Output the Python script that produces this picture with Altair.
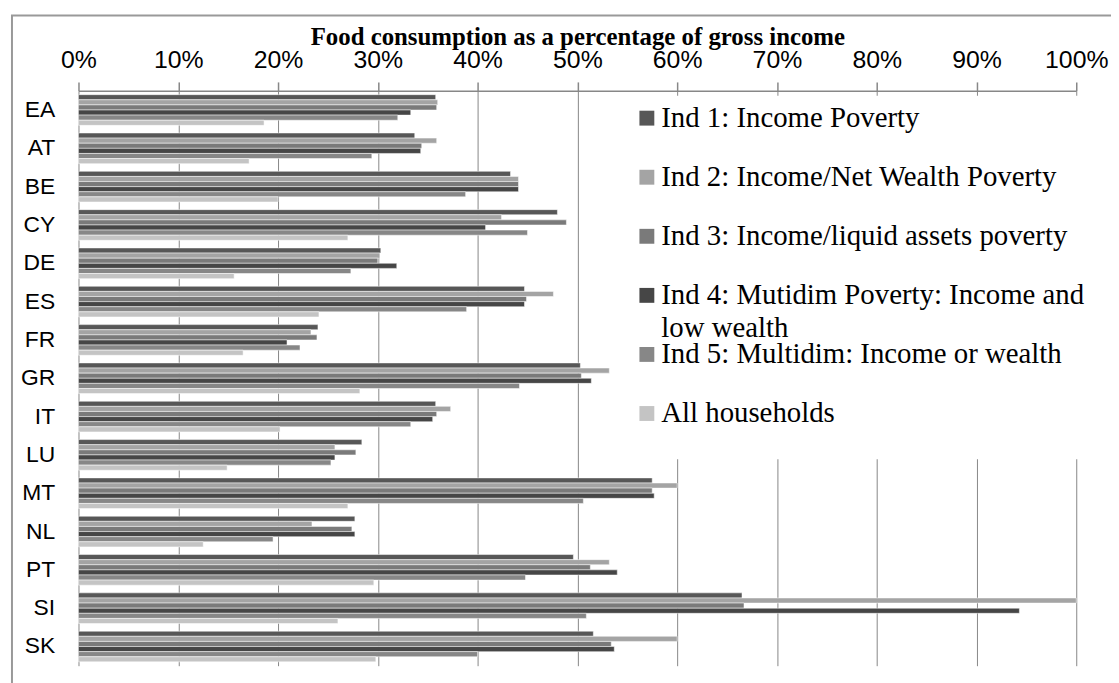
import altair as alt
import pandas as pd

countries = ["EA", "AT", "BE", "CY", "DE", "ES", "FR", "GR", "IT", "LU", "MT", "NL", "PT", "SI", "SK"]
series = [
    "Ind 1: Income Poverty",
    "Ind 2: Income/Net Wealth Poverty",
    "Ind 3: Income/liquid assets poverty",
    "Ind 4: Mutidim Poverty: Income and low wealth",
    "Ind 5: Multidim: Income or wealth",
    "All households",
]
legend_text = [
    "Ind 1: Income Poverty",
    "Ind 2: Income/Net Wealth Poverty",
    "Ind 3: Income/liquid assets poverty",
    "Ind 4: Mutidim Poverty: Income and\nlow wealth",
    "Ind 5: Multidim: Income or wealth",
    "All households",
]
colors = ["#575757", "#a4a4a4", "#7a7a7a", "#464646", "#878787", "#c4c4c4"]

# values in percent, in the order of countries
ind1 = [35.8, 33.7, 43.3, 48.0, 30.3, 44.7, 24.0, 50.3, 35.8, 28.4, 57.5, 27.7, 49.6, 66.5, 51.6]
ind2 = [36.0, 35.9, 44.1, 42.4, 30.2, 47.6, 23.3, 53.2, 37.3, 25.7, 60.0, 23.4, 53.2, 100.0, 60.0]
ind3 = [35.9, 34.4, 44.1, 48.9, 30.0, 44.9, 23.9, 50.4, 35.9, 27.8, 57.5, 27.4, 51.3, 66.7, 53.4]
ind4 = [33.3, 34.3, 44.1, 40.8, 31.9, 44.7, 20.9, 51.4, 35.5, 25.7, 57.7, 27.7, 54.0, 94.3, 53.7]
ind5 = [32.0, 29.4, 38.8, 45.0, 27.3, 38.9, 22.2, 44.2, 33.3, 25.3, 50.6, 19.5, 44.8, 50.9, 40.0]
allhh = [18.6, 17.1, 20.0, 27.0, 15.6, 24.1, 16.5, 28.2, 20.2, 14.9, 27.0, 12.5, 29.6, 26.0, 29.8]

x_ticks = [0.0, 0.1, 0.2, 0.3, 0.4, 0.5, 0.6, 0.7, 0.8, 0.9, 1.0]
axis_title = "Food consumption as a percentage of gross income"

rows = []
for s, vals in zip(series, [ind1, ind2, ind3, ind4, ind5, allhh]):
    for c, v in zip(countries, vals):
        rows.append({"country": c, "series": s, "value": v / 100.0})
df = pd.DataFrame(rows)

leg_df = pd.DataFrame({"series": series, "label": legend_text, "idx": list(range(len(series)))})

W, H = 1005, 579
GRAY = "#878787"
color_scale = alt.Scale(domain=series, range=colors)

one = pd.DataFrame({"k": [0]})

legend_box = alt.Chart(one).mark_rect(color="white").encode(
    x=alt.value(551), x2=alt.value(1060), y=alt.value(5), y2=alt.value(371)
)

bars = alt.Chart(df).mark_bar(stroke="white", strokeWidth=0.5).encode(
    x=alt.X(
        "value:Q",
        scale=alt.Scale(domain=[0, 1], nice=False),
        axis=alt.Axis(
            orient="top",
            values=x_ticks,
            format=".0%",
            title=axis_title,
            titleFont="Liberation Serif",
            titleFontSize=25,
            titleFontWeight="bold",
            titleColor="black",
            titleBaseline="alphabetic",
            titleY=-47,
            labelFont="Liberation Sans",
            labelFontSize=25,
            labelColor="black",
            labelPadding=10,
            labelFlush=False,
            labelOverlap=False,
            tickSize=9,
            tickColor=GRAY,
            tickWidth=1.5,
            domainColor=GRAY,
            domainWidth=1.5,
            grid=True,
            gridColor=GRAY,
            gridWidth=1,
        ),
    ),
    y=alt.Y(
        "country:N",
        sort=countries,
        scale=alt.Scale(domain=countries, paddingInner=0.2, paddingOuter=0.1),
        axis=alt.Axis(
            title=None,
            domain=False,
            ticks=False,
            grid=False,
            labelFont="Liberation Sans",
            labelFontSize=23,
            labelColor="black",
            labelPadding=24,
            labelAlign="right",
        ),
    ),
    yOffset=alt.YOffset(
        "series:N", sort=series, scale=alt.Scale(domain=series, paddingInner=0, paddingOuter=0)
    ),
    color=alt.Color("series:N", scale=color_scale, legend=None),
)

leg_y = alt.Y("idx:Q", scale=alt.Scale(domain=[0, 5], range=[36, 333.5]), axis=None)

swatches = alt.Chart(leg_df).mark_square(size=225, opacity=1, yOffset=-8.5).encode(
    x=alt.value(572.5),
    y=leg_y,
    color=alt.Color("series:N", scale=color_scale, legend=None),
)

labels = alt.Chart(leg_df).mark_text(
    align="left",
    baseline="alphabetic",
    font="Liberation Serif",
    fontSize=29,
    lineBreak="\n",
    lineHeight=33.5,
    color="black",
).encode(x=alt.value(587), y=leg_y, text="label:N")

frame = alt.Chart(one).mark_rect(fill="white", fillOpacity=0, stroke="#999999", strokeWidth=2).encode(
    x=alt.value(-67), x2=alt.value(W + 120), y=alt.value(-76), y2=alt.value(H + 120)
)

chart = (
    alt.layer(legend_box, bars, swatches, labels, frame)
    .resolve_scale(y="independent")
    .properties(
        width=W,
        height=H,
        padding={"left": 71, "top": 81, "right": 35, "bottom": 15},
        autosize=alt.AutoSizeParams(type="none"),
        background="white",
    )
    .configure_view(stroke=None)
)

chart.save("out.html", embed_options={"renderer": "svg", "actions": False})
